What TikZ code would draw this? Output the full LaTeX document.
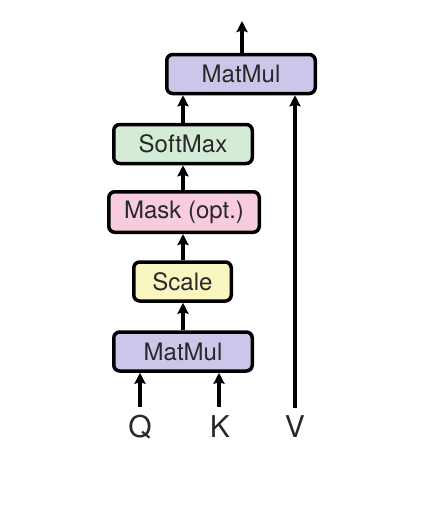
\documentclass[tikz,border=0pt]{standalone}
\usepackage{fontspec}
\setmainfont{TeX Gyre Heros}
\usetikzlibrary{arrows.meta}
\definecolor{mmfill}{RGB}{204,199,234}
\definecolor{smfill}{RGB}{212,236,214}
\definecolor{mkfill}{RGB}{247,204,222}
\definecolor{scfill}{RGB}{250,246,192}
\definecolor{txt}{RGB}{40,40,40}
\begin{document}
\begin{tikzpicture}[x=1pt,y=-1pt,
  box/.style={draw=black,line width=3.5pt,rounded corners=6pt,text=txt,
    font=\fontsize{24}{26}\selectfont,inner sep=0pt,minimum height=39pt},
  conn/.style={line width=3.2pt,-{Stealth[length=11pt,width=11pt,inset=1.5pt]}},
  lbl/.style={text=txt,font=\fontsize{30}{32}\selectfont,inner sep=0pt}]
\useasboundingbox (0,0) rectangle (433,509);
\node[box,fill=mmfill,minimum width=148.5pt] (mm2) at (241,74) {MatMul};
\node[box,fill=smfill,minimum width=138.5pt] (sm) at (183,144) {SoftMax};
\node[box,fill=mkfill,minimum width=150.5pt,minimum height=40.5pt] (mk) at (184,212) {Mask (opt.)};
\node[box,fill=scfill,minimum width=97.5pt] (sc) at (182.5,281.5) {Scale};
\node[box,fill=mmfill,minimum width=138.5pt] (mm1) at (183,351.5) {MatMul};
\node[lbl] (q) at (140,427) {Q};
\node[lbl] (k) at (220,427) {K};
\node[lbl] (v) at (295,427) {V};
\coordinate (out) at (242,21);
\coordinate (qs) at (140,407);
\coordinate (ks) at (219,407);
\coordinate (vs) at (295,408);
\draw[conn] (mm2.north -| out) -- (out);
\draw[conn] (sm.north) -- (sm.north |- mm2.south);
\draw[conn] (mk.north -| sm.north) -- (sm.south);
\draw[conn] (sc.north -| sm.north) -- (mk.south -| sm.north);
\draw[conn] (mm1.north) -- (mm1.north |- sc.south);
\draw[conn] (qs) -- (qs |- mm1.south);
\draw[conn] (ks) -- (ks |- mm1.south);
\draw[conn] (vs) -- (vs |- mm2.south);
\end{tikzpicture}
\end{document}
